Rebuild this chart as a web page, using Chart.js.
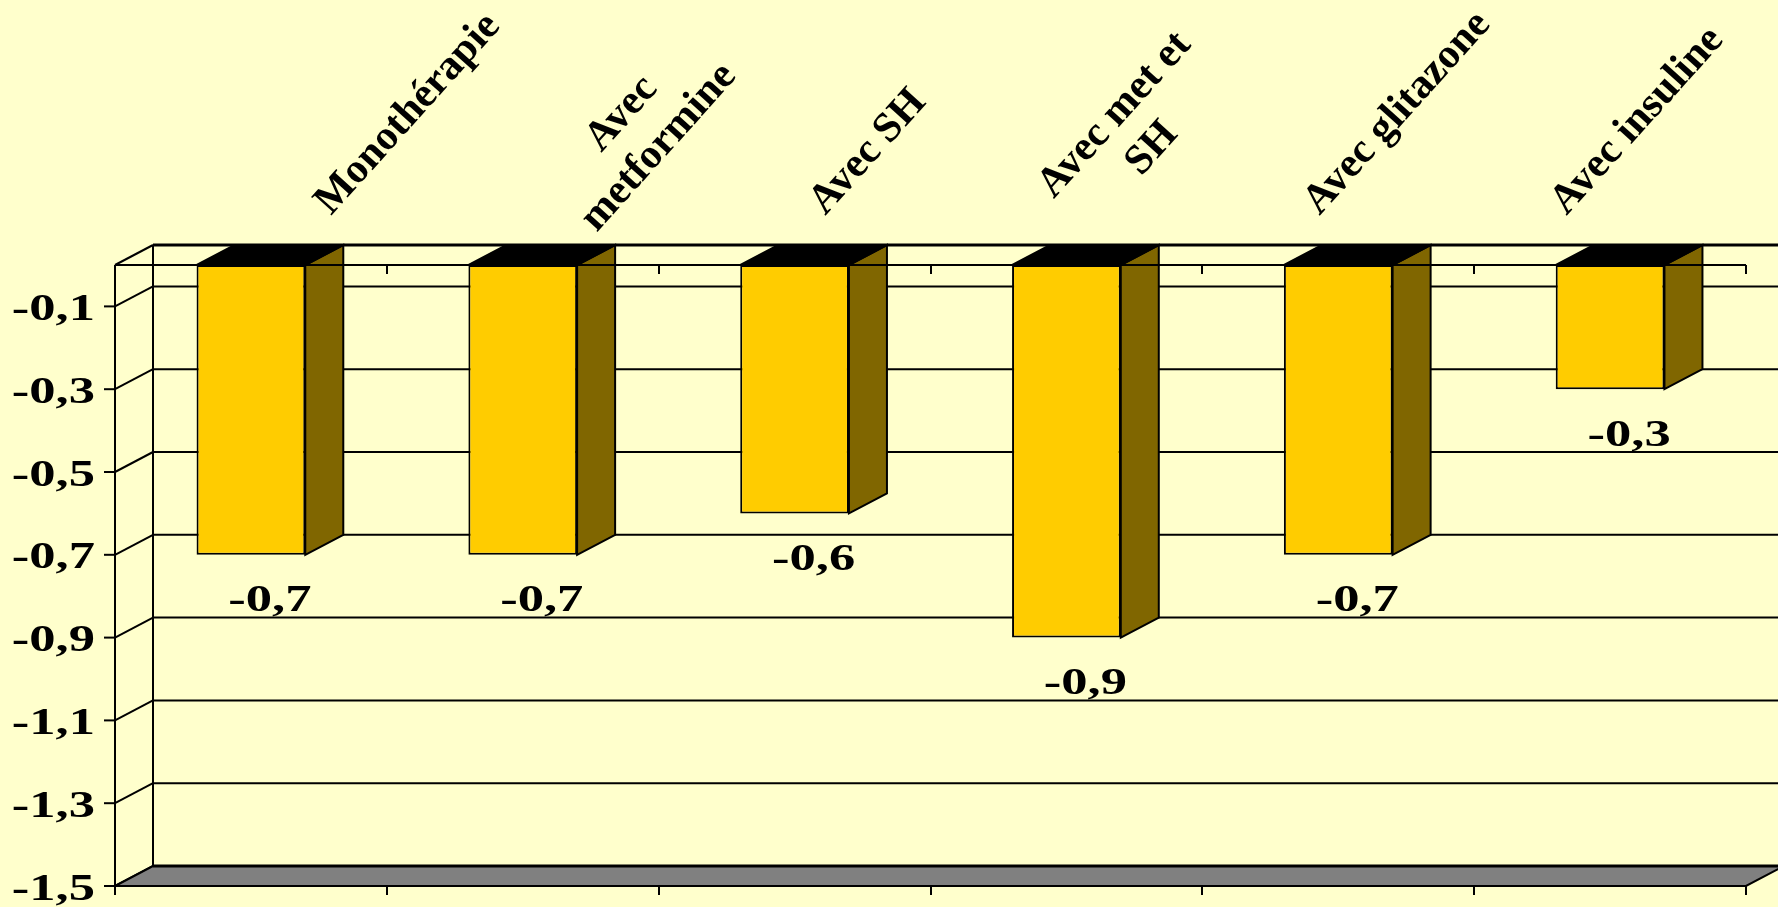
<!DOCTYPE html>
<html>
<head>
<meta charset="utf-8">
<script src="https://cdn.jsdelivr.net/npm/chart.js@4.4.1/dist/chart.umd.min.js"></script>
<style>
  html, body { margin: 0; padding: 0; background: #FFFFCC; }
  canvas { display: block; }
</style>
</head>
<body>
<canvas id="hba1cChart" width="1778" height="907"></canvas>
<script>
// categories (multi-line labels as arrays)
const categories = ['Monothérapie', ['Avec', 'metformine'], 'Avec SH', ['Avec met et', 'SH'], 'Avec glitazone', 'Avec insuline'];
// change in HbA1c (%)
const hba1cChange = [-0.7, -0.7, -0.6, -0.9, -0.7, -0.3];
// y axis tick labels
const yTicks = [-0.1, -0.3, -0.5, -0.7, -0.9, -1.1, -1.3, -1.5];

const FONT = '"Liberation Serif", "Times New Roman", serif';
const DX = 38, DY = 20;       // depth of the 3D frame
const STRETCH = 1.42;         // numbers in the original are stretched horizontally

const fmt = v => v.toFixed(1).replace('.', ',');

function seg(ctx, x1, y1, x2, y2) {
  ctx.beginPath();
  ctx.moveTo(x1, y1);
  ctx.lineTo(x2, y2);
  ctx.stroke();
}

function poly(ctx, pts, fill, lw) {
  ctx.beginPath();
  ctx.moveTo(pts[0][0], pts[0][1]);
  for (let i = 1; i < pts.length; i++) ctx.lineTo(pts[i][0], pts[i][1]);
  ctx.closePath();
  ctx.fillStyle = fill;
  ctx.fill();
  ctx.lineWidth = lw;
  ctx.stroke();
}

const frame3d = {
  id: 'frame3d',
  beforeDatasetsDraw(chart) {
    const { ctx, chartArea: a, scales: { x, y } } = chart;
    const W = chart.width;
    const y0 = y.getPixelForValue(0);
    const yMin = y.getPixelForValue(-1.5);
    ctx.save();
    ctx.strokeStyle = '#000';
    ctx.lineCap = 'butt';

    // back wall gridlines
    ctx.lineWidth = 2;
    yTicks.slice(0, -1).forEach(v => {
      const py = y.getPixelForValue(v) - DY;
      seg(ctx, a.left + DX, py, W, py);
    });
    ctx.lineWidth = 3;
    seg(ctx, a.left + DX, y0 - DY, W, y0 - DY);

    // back wall left edge + side wall diagonals
    ctx.lineWidth = 2;
    seg(ctx, a.left + DX, y0 - DY, a.left + DX, yMin - DY);
    [0, ...yTicks].forEach(v => {
      const py = y.getPixelForValue(v);
      seg(ctx, a.left, py, a.left + DX, py - DY);
    });

    // floor
    poly(ctx, [[a.left, yMin], [a.right, yMin], [a.right + DX, yMin - DY], [a.left + DX, yMin - DY]], '#808080', 2);
    ctx.lineWidth = 3;
    seg(ctx, a.left + DX, yMin - DY, W, yMin - DY);

    // bar sides and tops
    chart.getDatasetMeta(0).data.forEach(bar => {
      const p = bar.getProps(['x', 'y', 'base', 'width'], true);
      const x0 = p.x - p.width / 2, x1 = p.x + p.width / 2;
      const top = Math.min(p.y, p.base), bottom = Math.max(p.y, p.base);
      poly(ctx, [[x1, top], [x1 + DX, top - DY], [x1 + DX, bottom - DY], [x1, bottom]], '#806600', 2);
      poly(ctx, [[x0, top], [x1, top], [x1 + DX, top - DY], [x0 + DX, top - DY]], '#000000', 2);
    });
    ctx.restore();
  },
  afterDatasetsDraw(chart) {
    const { ctx, chartArea: a, scales: { x, y } } = chart;
    const y0 = y.getPixelForValue(0);
    const yMin = y.getPixelForValue(-1.5);
    ctx.save();
    ctx.strokeStyle = '#000';
    ctx.lineWidth = 2;

    // front axes
    seg(ctx, a.left, y0, a.left, yMin + 9);
    seg(ctx, a.left, y0, a.right, y0);
    for (let i = 0; i <= categories.length; i++) {
      const px = Math.round(x.getPixelForValue(i - 0.5));
      if (i > 0) seg(ctx, px, y0, px, y0 + 9);
      seg(ctx, px, yMin, px, yMin + 9);
    }

    // y ticks and labels
    ctx.fillStyle = '#000';
    ctx.font = 'bold 37px ' + FONT;
    ctx.textAlign = 'right';
    ctx.textBaseline = 'middle';
    yTicks.forEach(v => {
      const py = y.getPixelForValue(v);
      seg(ctx, a.left - 11, py, a.left, py);
      ctx.save();
      ctx.translate(a.left - 20, py + 4);
      ctx.scale(STRETCH, 1);
      ctx.fillText(fmt(v), 0, 0);
      ctx.restore();
    });

    // value labels under the bars
    ctx.textAlign = 'center';
    chart.getDatasetMeta(0).data.forEach((bar, i) => {
      const p = bar.getProps(['x', 'y'], true);
      ctx.save();
      ctx.translate(p.x + DX / 2, p.y + 47);
      ctx.scale(STRETCH, 1);
      ctx.fillText(fmt(hba1cChange[i]), 0, 0);
      ctx.restore();
    });

    // category labels, rotated, above the plot
    ctx.font = 'bold 42px ' + FONT;
    ctx.textAlign = 'left';
    ctx.textBaseline = 'alphabetic';
    const ang = 48 * Math.PI / 180;
    const lh = 50;
    categories.forEach((lab, i) => {
      const lines = Array.isArray(lab) ? lab : [lab];
      const widths = lines.map(l => ctx.measureText(l).width);
      const maxW = Math.max(...widths);
      const px = x.getPixelForValue(i);
      ctx.save();
      ctx.translate(px * 0.909 + 103, 216);
      ctx.rotate(-ang);
      lines.forEach((l, j) => ctx.fillText(l, (maxW - widths[j]) / 2, (j - (lines.length - 1) / 2) * lh));
      ctx.restore();
    });
    ctx.restore();
  }
};

const ctx = document.getElementById('hba1cChart').getContext('2d');
new Chart(ctx, {
  type: 'bar',
  data: {
    labels: categories,
    datasets: [{
      data: hba1cChange,
      backgroundColor: '#FFCC00',
      borderColor: '#000000',
      borderWidth: 2,
      borderSkipped: false,
      barPercentage: 0.4,
      categoryPercentage: 1
    }]
  },
  options: {
    responsive: false,
    animation: false,
    layout: { padding: { left: 115, top: 265, right: 32, bottom: 21 } },
    plugins: {
      legend: { display: false },
      tooltip: { enabled: false }
    },
    scales: {
      x: { display: false },
      y: {
        display: false,
        min: -1.5,
        max: 0,
        afterBuildTicks: scale => { scale.ticks = yTicks.map(v => ({ value: v })); }
      }
    }
  },
  plugins: [frame3d]
});
</script>
</body>
</html>
